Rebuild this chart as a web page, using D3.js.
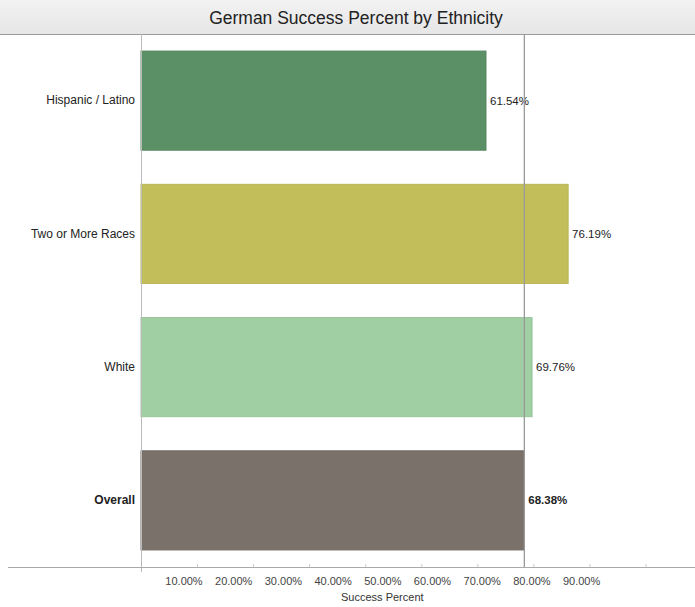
<!DOCTYPE html>
<html>
<head>
<meta charset="utf-8">
<script src="https://cdn.jsdelivr.net/npm/d3@7"></script>
<style>
  html, body { margin: 0; padding: 0; background: #fff; }
  svg { display: block; font-family: "Liberation Sans", Arial, sans-serif; }
</style>
</head>
<body>
<svg id="chart" width="695" height="607"></svg>
<script>
// ---- data ----
const categories = ["Hispanic / Latino", "Two or More Races", "White", "Overall"];
const successPercent = [61.54, 76.19, 69.76, 68.38];
const barColors = ["#5b8f65", "#c2bf5b", "#9fcfa2", "#7a716a"];
const tickValues = [10, 20, 30, 40, 50, 60, 70, 80, 90];
const referenceValue = 68.38; // Overall
const title = "German Success Percent by Ethnicity";
const xTitle = "Success Percent";

// ---- layout ----
const W = 695, H = 607;
const plotLeft = 141, plotTop = 34, plotBottom = 567;
const svg = d3.select("#chart");

// title band
const grad = svg.append("defs").append("linearGradient")
  .attr("id", "tg").attr("x1", 0).attr("x2", 0).attr("y1", 0).attr("y2", 1);
grad.append("stop").attr("offset", "0%").attr("stop-color", "#f2f2f2");
grad.append("stop").attr("offset", "100%").attr("stop-color", "#e6e6e6");
svg.append("rect").attr("x", 0).attr("y", 0).attr("width", W).attr("height", plotTop)
  .attr("fill", "url(#tg)");
svg.append("line").attr("x1", 0).attr("x2", W).attr("y1", plotTop + 0.5).attr("y2", plotTop + 0.5)
  .attr("stroke", "#9a9a9a");
svg.append("text").attr("x", 356).attr("y", 24).attr("text-anchor", "middle")
  .attr("font-size", 17.5).attr("fill", "#222").text(title);

// scales
const x = d3.scaleLinear().domain([0, 100]).range([plotLeft, plotLeft + 560.6]);
const y = d3.scaleBand().domain(categories).range([plotTop, plotBottom]).paddingInner(0.256).paddingOuter(0.128);
// tick labels are drawn on a compressed layout in the original
const xLabel = d3.scaleLinear().domain([0, 100]).range([133.8, 630.8]);

// bars
svg.append("g").selectAll("rect").data(categories).join("rect")
  .attr("x", x(0))
  .attr("y", d => y(d))
  .attr("width", (d, i) => x(successPercent[i]) - x(0))
  .attr("height", y.bandwidth())
  .attr("fill", (d, i) => barColors[i])
  .attr("stroke", (d, i) => d3.color(barColors[i]).darker(0.15))
  .attr("stroke-width", 1);

// value labels
svg.append("g").selectAll("text").data(categories).join("text")
  .attr("x", (d, i) => x(successPercent[i]) + 4)
  .attr("y", d => y(d) + y.bandwidth() / 2 + 4)
  .attr("font-size", 11.5)
  .attr("font-weight", d => d === "Overall" ? "bold" : "normal")
  .attr("fill", "#222")
  .text((d, i) => successPercent[i].toFixed(2) + "%");

// y axis (category labels)
const yAxis = svg.append("g").attr("transform", `translate(${plotLeft},0)`)
  .call(d3.axisLeft(y).tickSize(0).tickPadding(6));
yAxis.select(".domain").remove();
yAxis.selectAll("text").attr("font-size", 12).attr("fill", "#222")
  .attr("font-family", "Liberation Sans, Arial, sans-serif")
  .attr("font-weight", d => d === "Overall" ? "bold" : "normal");

// left plot border
svg.append("line").attr("x1", plotLeft + 0.5).attr("x2", plotLeft + 0.5)
  .attr("y1", plotTop).attr("y2", plotBottom + 5).attr("stroke", "#bbb");

// reference line
svg.append("line").attr("x1", x(referenceValue)).attr("x2", x(referenceValue))
  .attr("y1", plotTop).attr("y2", plotBottom).attr("stroke", "#999").attr("stroke-width", 1.3);

// x axis line
svg.append("line").attr("x1", 8).attr("x2", W).attr("y1", plotBottom + 0.5).attr("y2", plotBottom + 0.5)
  .attr("stroke", "#aaa");

// tick marks (true scale)
const tickG = svg.append("g").attr("transform", `translate(0,${plotBottom})`)
  .call(d3.axisBottom(x).tickValues(tickValues).tickSize(-3).tickFormat(""));
tickG.select(".domain").remove();
tickG.selectAll("line").attr("stroke", "#ccc");

// tick labels
const labG = svg.append("g").attr("transform", `translate(0,${plotBottom})`)
  .call(d3.axisBottom(xLabel).tickValues(tickValues).tickSize(0).tickPadding(10)
    .tickFormat(d => d3.format(".2f")(d) + "%"));
labG.select(".domain").remove();
labG.selectAll("text").attr("font-size", 11).attr("fill", "#444")
  .attr("font-family", "Liberation Sans, Arial, sans-serif");

// x axis title
svg.append("text").attr("x", (xLabel(10) + xLabel(90)) / 2).attr("y", 601)
  .attr("text-anchor", "middle").attr("font-size", 11).attr("fill", "#333").text(xTitle);
</script>
</body>
</html>
